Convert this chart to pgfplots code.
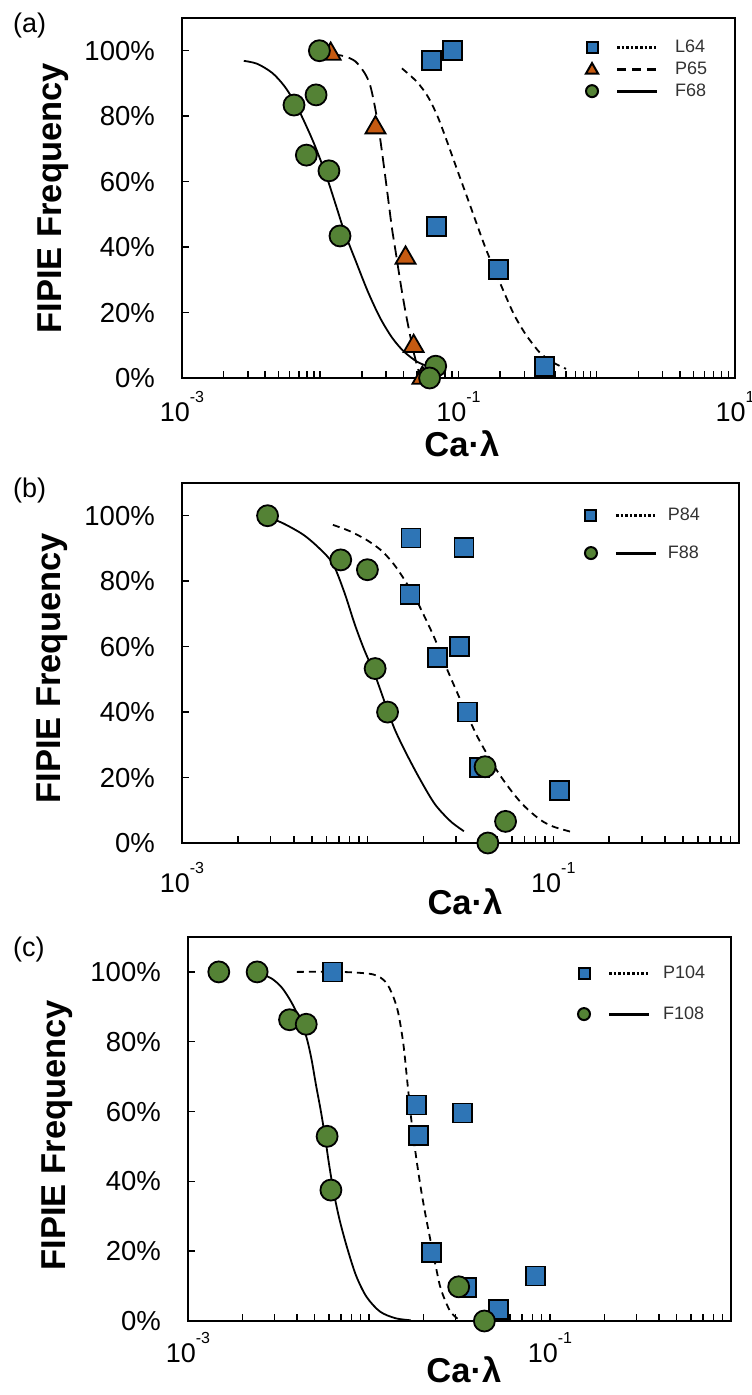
\documentclass[border=0pt]{standalone}
\usepackage{pgfplots}
\pgfplotsset{compat=1.18}
\usepackage{fontspec}
\setmainfont{Liberation Sans}
\definecolor{sqblue}{RGB}{46,117,182}
\definecolor{triorange}{RGB}{197,90,17}
\definecolor{cgreen}{RGB}{84,130,53}
\definecolor{legtext}{RGB}{50,50,50}
\newcommand{\tp}[1]{10\raisebox{19bp}{\fontsize{16bp}{16bp}\selectfont #1}}
\def\legext{83bp}
\pgfplotsset{
  every axis/.append style={
    scale only axis, ymin=0, ymax=1.1,
    axis line style={line width=2bp},
    tick align=inside, tick pos=left,
    major tick length=7bp, minor tick length=7bp,
    ytick={0,0.2,0.4,0.6,0.8,1},
    yticklabels={0\%,20\%,40\%,60\%,80\%,100\%},
    clip mode=individual,
    legend cell align=left,
  },
  every tick/.style={black, line width=1.5bp},
  every minor tick/.style={black, line width=1.5bp},
  every y tick label/.append style={anchor=east, inner sep=0pt, xshift=-27bp, font=\fontsize{27.5bp}{30bp}\selectfont},
  every x tick label/.append style={anchor=north, inner sep=0pt, font=\fontsize{27bp}{30bp}\selectfont},
  every axis label/.append style={font=\fontsize{34.5bp}{40bp}\selectfont\bfseries},
  every axis legend/.append style={draw=none, fill=none, inner sep=0pt, outer sep=0pt,
      font=\fontsize{18bp}{20bp}\selectfont, text=legtext, nodes={inner sep=0pt}, column sep=0pt},
  fitline/.style={forget plot, smooth, black, line width=1.8bp},
  sqpl/.style={only marks, mark=square*, mark size=9.5bp,
    mark options={draw=black, fill=sqblue, line width=1.8bp, solid},
    legend image code/.code={
      \path[draw=none, fill=none] (-7bp,-7bp) rectangle (\legext,7bp);
      \draw[black, line width=3bp, #1] (25bp,0bp) -- (65bp,0bp);
      \draw[mark=square*, mark size=5.5bp, mark options={draw=black, fill=sqblue, line width=2bp, solid}] plot coordinates {(0bp,0bp)};}},
  tripl/.style={only marks, mark=triangle*, mark size=11.5bp,
    mark options={draw=black, fill=triorange, line width=1.8bp, solid},
    legend image code/.code={
      \path[draw=none, fill=none] (-7bp,-7bp) rectangle (\legext,7bp);
      \draw[black, line width=3bp, #1] (25bp,0bp) -- (65bp,0bp);
      \draw[mark=triangle*, mark size=7bp, mark options={draw=black, fill=triorange, line width=2bp, solid}] plot coordinates {(0bp,-1bp)};}},
  cipl/.style={only marks, mark=*, mark size=10.5bp,
    mark options={draw=black, fill=cgreen, line width=1.8bp, solid},
    legend image code/.code={
      \path[draw=none, fill=none] (-7bp,-7bp) rectangle (\legext,7bp);
      \draw[black, line width=3bp, #1] (25bp,0bp) -- (65bp,0bp);
      \draw[mark=*, mark size=6bp, mark options={draw=black, fill=cgreen, line width=2bp, solid}] plot coordinates {(0bp,0bp)};}},
}
\begin{document}
\begin{tikzpicture}
\useasboundingbox (0,0) rectangle (752bp,1395bp);
\node[anchor=base west, inner sep=0pt, font=\fontsize{27bp}{30bp}\selectfont] at (13bp,1362bp) {(a)};
\node[anchor=base west, inner sep=0pt, font=\fontsize{27bp}{30bp}\selectfont] at (13bp,897bp) {(b)};
\node[anchor=base west, inner sep=0pt, font=\fontsize{27bp}{30bp}\selectfont] at (13bp,438bp) {(c)};

% ---------------- (a)
\def\legext{83bp}
\begin{axis}[xmode=log, at={(182bp,1017bp)}, anchor=south west, width=553bp, height=360bp,
  xmin=1e-3, xmax=10,
  xtick={1e-3,1e-2,1e-1,1,10},
  xticklabels={\tp{-3},,\tp{-1},,\tp{1}},
  minor xtick={0.002,0.003,0.004,0.005,0.006,0.007,0.008,0.009,0.02,0.03,0.04,0.05,0.06,0.07,0.08,0.09,0.2,0.3,0.4,0.5,0.6,0.7,0.8,0.9,2,3,4,5,6,7,8,9},
  xticklabel style={yshift=-13bp},
  xlabel={Ca·λ}, ylabel={FIPIE Frequency},
  xlabel style={at={(rel axis cs:0.506,-0.2167)}, anchor=base},
  ylabel style={at={(rel axis cs:-0.217,0.499)}, anchor=base},
  legend style={at={(rel axis cs:0.7288,0.9389)}, anchor=north west, row sep=8bp},
]
\addplot[fitline, dash pattern=on 7bp off 5bp] coordinates {(0.039,0.946) (0.05,0.905) (0.06,0.86) (0.07,0.803) (0.08,0.739) (0.09,0.679) (0.1,0.625) (0.12,0.533) (0.14,0.454) (0.16,0.388) (0.2,0.29) (0.25,0.197) (0.3,0.139) (0.35,0.1) (0.4,0.072) (0.5,0.044) (0.6,0.028)};
\addplot[fitline, dash pattern=on 12bp off 6bp] coordinates {(0.012,0.99) (0.015,0.983) (0.018,0.967) (0.021,0.931) (0.023,0.893) (0.025,0.823) (0.027,0.737) (0.029,0.641) (0.031,0.547) (0.033,0.458) (0.035,0.39) (0.038,0.293) (0.041,0.211) (0.044,0.144) (0.047,0.085) (0.05,0.04) (0.052,0.015)};
\addplot[fitline] coordinates {(0.0028,0.969) (0.0035,0.96) (0.0045,0.932) (0.0055,0.892) (0.0065,0.844) (0.0075,0.792) (0.009,0.717) (0.011,0.621) (0.013,0.527) (0.015,0.445) (0.018,0.359) (0.022,0.266) (0.027,0.185) (0.033,0.124) (0.04,0.082) (0.05,0.05) (0.06,0.036)};
\addplot[sqpl={dash pattern=on 2.6bp off 2bp}] coordinates {(0.0635,0.969) (0.0906,1.0) (0.0697,0.464) (0.196,0.332) (0.42,0.036)};
\addlegendentry{L64}
\addplot[tripl={dash pattern=on 9bp off 6bp}] coordinates {(0.0119,0.99) (0.0251,0.765) (0.0414,0.367) (0.0474,0.097) (0.0548,0.0)};
\addlegendentry{P65}
\addplot[cipl={solid}] coordinates {(0.00986,1.0) (0.00933,0.865) (0.00646,0.834) (0.00794,0.681) (0.01156,0.633) (0.0139,0.434) (0.0684,0.036) (0.0618,0.0)};
\addlegendentry{F68}
\end{axis}

% ---------------- (b)
\def\legext{77bp}
\begin{axis}[xmode=log, at={(182bp,552bp)}, anchor=south west, width=557bp, height=360bp,
  xmin=1e-3, xmax=1,
  xtick={1e-3,1e-2,1e-1,1},
  xticklabels={\tp{-3},,\tp{-1},},
  minor xtick={0.002,0.003,0.004,0.005,0.006,0.007,0.008,0.009,0.02,0.03,0.04,0.05,0.06,0.07,0.08,0.09,0.2,0.3,0.4,0.5,0.6,0.7,0.8,0.9},
  xticklabel style={yshift=-19bp},
  xlabel={Ca·λ}, ylabel={FIPIE Frequency},
  xlabel style={at={(rel axis cs:0.508,-0.2)}, anchor=base},
  ylabel style={at={(rel axis cs:-0.219,0.485)}, anchor=base},
  legend style={at={(rel axis cs:0.7217,0.9306)}, anchor=north west, row sep=24bp},
]
\addplot[fitline, dash pattern=on 7bp off 5bp] coordinates {(0.0065,0.972) (0.008,0.953) (0.01,0.924) (0.012,0.891) (0.014,0.848) (0.016,0.799) (0.018,0.75) (0.02,0.698) (0.023,0.624) (0.026,0.548) (0.03,0.466) (0.034,0.397) (0.04,0.313) (0.05,0.219) (0.06,0.156) (0.07,0.112) (0.085,0.071) (0.1,0.05) (0.125,0.034)};
\addplot[fitline] coordinates {(0.0029,0.995) (0.0035,0.977) (0.0045,0.942) (0.0055,0.9) (0.0065,0.853) (0.0075,0.765) (0.0085,0.67) (0.0095,0.596) (0.011,0.51) (0.0125,0.422) (0.014,0.347) (0.016,0.278) (0.019,0.198) (0.023,0.119) (0.028,0.066) (0.033,0.036)};
\addplot[sqpl={dash pattern=on 2.6bp off 2bp}] coordinates {(0.0171,0.932) (0.0330,0.903) (0.0169,0.760) (0.0238,0.566) (0.0311,0.600) (0.0344,0.400) (0.0399,0.230) (0.108,0.161)};
\addlegendentry{P84}
\addplot[cipl={solid}] coordinates {(0.00289,1.0) (0.00716,0.865) (0.00997,0.835) (0.01097,0.533) (0.0128,0.400) (0.0429,0.233) (0.0553,0.066) (0.0444,0.0)};
\addlegendentry{F88}
\end{axis}

% ---------------- (c)
\def\legext{79bp}
\begin{axis}[xmode=log, at={(188bp,74bp)}, anchor=south west, width=543bp, height=384bp,
  xmin=1e-3, xmax=1,
  xtick={1e-3,1e-2,1e-1,1},
  xticklabels={\tp{-3},,\tp{-1},},
  minor xtick={0.002,0.003,0.004,0.005,0.006,0.007,0.008,0.009,0.02,0.03,0.04,0.05,0.06,0.07,0.08,0.09,0.2,0.3,0.4,0.5,0.6,0.7,0.8,0.9},
  xticklabel style={yshift=-11bp},
  xlabel={Ca·λ}, ylabel={FIPIE Frequency},
  xlabel style={at={(rel axis cs:0.508,-0.159)}, anchor=base},
  ylabel style={at={(rel axis cs:-0.2265,0.484)}, anchor=base},
  legend style={at={(rel axis cs:0.7164,0.9245)}, anchor=north west, row sep=27bp},
]
\addplot[fitline, dash pattern=on 7bp off 5bp] coordinates {(0.004,1.0) (0.007,1.0) (0.0105,0.993) (0.0123,0.972) (0.0135,0.934) (0.0145,0.883) (0.0155,0.792) (0.0163,0.683) (0.0172,0.569) (0.0182,0.471) (0.0193,0.383) (0.0205,0.305) (0.022,0.224) (0.0235,0.151) (0.025,0.09) (0.028,0.029) (0.031,0.006)};
\addplot[fitline] coordinates {(0.0025,0.995) (0.0029,0.981) (0.0033,0.955) (0.0037,0.916) (0.0041,0.87) (0.0045,0.815) (0.0048,0.753) (0.0051,0.675) (0.0054,0.606) (0.0057,0.533) (0.006,0.453) (0.0064,0.366) (0.0069,0.287) (0.0076,0.207) (0.0085,0.129) (0.0097,0.069) (0.0115,0.027) (0.014,0.008) (0.017,0.002)};
\addplot[sqpl={dash pattern=on 2.6bp off 2bp}] coordinates {(0.00627,1.0) (0.0183,0.619) (0.0187,0.531) (0.0330,0.596) (0.0222,0.196) (0.0346,0.096) (0.0520,0.033) (0.0834,0.129)};
\addlegendentry{P104}
\addplot[cipl={solid}] coordinates {(0.00148,1.0) (0.00241,1.0) (0.00364,0.863) (0.00450,0.850) (0.00587,0.529) (0.00616,0.375) (0.0313,0.098) (0.0434,0.0)};
\addlegendentry{F108}
\end{axis}
\end{tikzpicture}
\end{document}
